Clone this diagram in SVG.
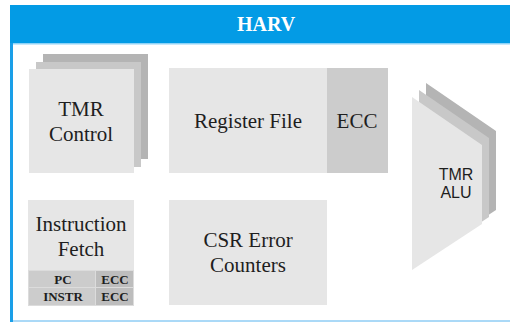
<svg xmlns="http://www.w3.org/2000/svg" width="510" height="322" viewBox="0 0 510 322">
  <style>
    .serif { fill: #1e1e1e; text-anchor: middle; }
    .sans { fill: #1e1e1e; text-anchor: middle; }
    .front { fill: #e6e6e6; }
    .mid { fill: #c8c8c8; }
    .back { fill: #b4b4b4; }
    .ecc { fill: #cccccc; }
    .cell-a { fill: #cccccc; stroke: #dcdcdc; stroke-width: 1; }
    .cell-b { fill: #bdbdbd; stroke: #dcdcdc; stroke-width: 1; }
  </style>

  <!-- outer frame -->
  <g id="frame">
    <rect x="12" y="43" width="505" height="278" fill="#ffffff" stroke="#8fcdf5" stroke-width="1.5"/>
    <rect x="10" y="43" width="3" height="279" fill="#1a9fe8"/>
    <rect x="10" y="5" width="510" height="38" fill="#039be5"/>
    <rect x="13" y="43" width="500" height="1.5" fill="#8fd3f7"/>
    <text x="266" y="31" font-family="Liberation Serif, Times New Roman, serif" font-weight="bold" font-size="20" fill="#ffffff" text-anchor="middle">HARV</text>
  </g>

  <g font-family="Liberation Serif, Times New Roman, serif">
    <!-- TMR control: three stacked copies -->
    <g id="tmr-control">
      <rect class="back" x="43" y="54" width="105" height="105"/>
      <rect class="mid" x="36" y="62" width="105" height="105"/>
      <rect class="front" x="29" y="69" width="105" height="104"/>
      <text class="serif" x="81" y="116" font-size="21">TMR</text>
      <text class="serif" x="81" y="141" font-size="21">Control</text>
    </g>

    <!-- register file with ECC -->
    <g id="register-file">
      <rect class="front" x="169" y="68" width="158" height="105"/>
      <rect class="ecc" x="327" y="68" width="61" height="105"/>
      <text class="serif" x="248" y="128" font-size="21">Register File</text>
      <text class="serif" x="357" y="128" font-size="21">ECC</text>
    </g>

    <!-- instruction fetch with PC / INSTR registers -->
    <g id="instruction-fetch">
      <rect class="front" x="28" y="200" width="106" height="70"/>
      <text class="serif" x="81" y="231" font-size="21">Instruction</text>
      <text class="serif" x="81" y="256" font-size="21">Fetch</text>
      <rect class="cell-a" x="28.5" y="270.5" width="67" height="17"/>
      <rect class="cell-b" x="95.5" y="270.5" width="38" height="17"/>
      <rect class="cell-a" x="28.5" y="287.5" width="67" height="18"/>
      <rect class="cell-b" x="95.5" y="287.5" width="38" height="18"/>
      <text class="serif" x="63" y="284" font-size="13" font-weight="bold">PC</text>
      <text class="serif" x="115" y="284" font-size="13" font-weight="bold">ECC</text>
      <text class="serif" x="63" y="301" font-size="13" font-weight="bold">INSTR</text>
      <text class="serif" x="115" y="301" font-size="13" font-weight="bold">ECC</text>
    </g>

    <!-- CSR error counters -->
    <g id="csr-error-counters">
      <rect class="front" x="169" y="200" width="158" height="105"/>
      <text class="serif" x="248" y="247" font-size="21">CSR Error</text>
      <text class="serif" x="248" y="272" font-size="21">Counters</text>
    </g>
  </g>

  <!-- TMR ALU: three stacked ALU outlines -->
  <g id="tmr-alu" font-family="Liberation Sans, Arial, sans-serif">
    <polygon class="back" points="426,83 496,131 496,210 426,256 426,148 442,166 426,184"/>
    <polygon class="mid" points="419,90 489,138 489,217 419,263 419,155 435,173 419,191"/>
    <polygon class="front" points="412,97 482,145 482,224 412,270 412,162 428,180 412,198"/>
    <text class="sans" x="456" y="180" font-size="16">TMR</text>
    <text class="sans" x="456" y="198" font-size="16">ALU</text>
  </g>

  <g id="connectors"/>
</svg>
